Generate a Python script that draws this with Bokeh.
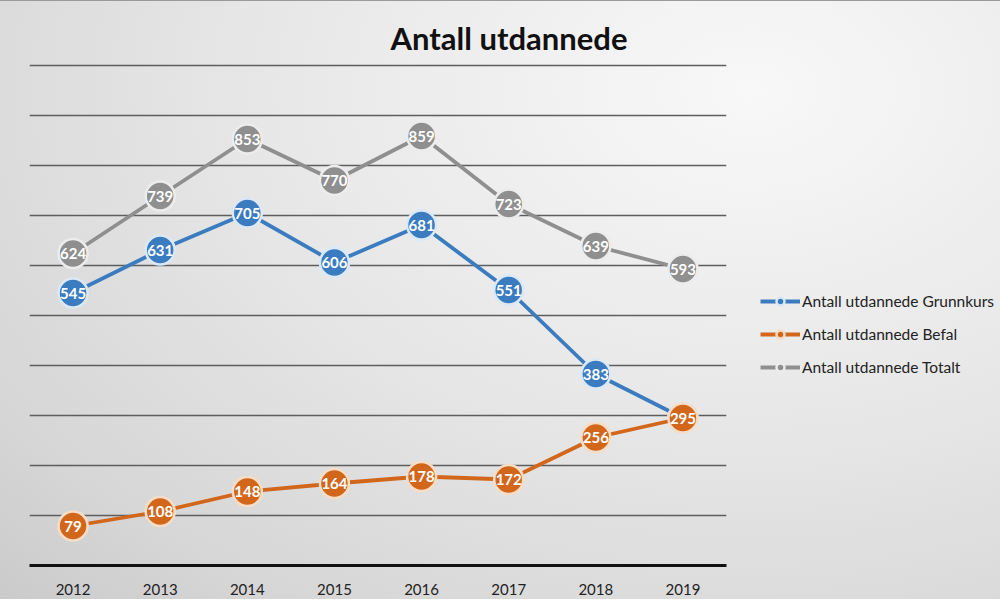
from bokeh.plotting import figure
from bokeh.layouts import row
from bokeh.models import (FactorRange, Range1d, SingleIntervalTicker, Legend, LegendItem, Title)
from bokeh.core.properties import value
from bokeh.embed import file_html
from bokeh.resources import INLINE

years = ["2012", "2013", "2014", "2015", "2016", "2017", "2018", "2019"]
grunnkurs = [545, 631, 705, 606, 681, 551, 383, 295]
befal = [79, 108, 148, 164, 178, 172, 256, 295]
totalt = [624, 739, 853, 770, 859, 723, 639, 593]
series_names = ["Antall utdannede Grunnkurs", "Antall utdannede Befal", "Antall utdannede Totalt"]
colors = ["#3b7cc0", "#d2671c", "#8f8f8f"]
glows = ["#dbe8f5", "#f7ddc6", "#ececec"]
title_text = "Antall utdannede"

H = 598
p = figure(width=730, height=H, output_backend="svg", toolbar_location=None,
           x_range=FactorRange(*years, range_padding=0), y_range=Range1d(0, 1010),
           min_border_left=29, min_border_right=4, min_border_top=59, min_border_bottom=34)
p.background_fill_alpha = 0
p.border_fill_alpha = 0
p.outline_line_color = None

p.title = Title(text=title_text, align="left", offset=361, text_font="Lato",
                text_font_size="31px", text_font_style="bold", text_color="#111111", standoff=7)

p.yaxis.visible = False
p.ygrid.ticker = SingleIntervalTicker(interval=100)
p.ygrid.grid_line_color = "#5e5e5e"
p.ygrid.grid_line_width = 1.4
p.xgrid.grid_line_color = None

ax = p.xaxis[0]
ax.axis_line_color = "#111111"
ax.axis_line_width = 3
ax.major_tick_line_color = None
ax.minor_tick_line_color = None
ax.major_label_standoff = 12
ax.major_label_text_font = "Lato"
ax.major_label_text_font_size = "15px"
ax.major_label_text_color = "#222222"

# legend panel (separate figure so the legend is not clipped by the plot frame)
p2 = figure(width=270, height=H, output_backend="svg", toolbar_location=None,
            x_range=FactorRange(*years), y_range=Range1d(-3000, -2000),
            min_border_left=0, min_border_right=0, min_border_top=0, min_border_bottom=0)
p2.axis.visible = False
p2.grid.visible = False
p2.background_fill_alpha = 0
p2.border_fill_alpha = 0
p2.outline_line_color = None

items = []
for name, vals, c, g in zip(series_names, [grunnkurs, befal, totalt], colors, glows):
    src = dict(x=years, y=vals, t=[str(v) for v in vals])
    p.line(x="x", y="y", source=src, line_color=c, line_width=3.8)
    p.scatter(x="x", y="y", source=src, size=29, fill_color=c, line_color=g, line_width=2.5)
    p.text(x="x", y="y", text="t", source=src, text_align="center", text_baseline="middle",
           text_font=value("Lato"), text_font_size="15px", text_font_style="bold", text_color="white")
    l2 = p2.line(x="x", y="y", source=src, line_color=c, line_width=3.8)
    s2 = p2.scatter(x="x", y="y", source=src, size=29, fill_color=c, line_color=g, line_width=2.5)
    items.append(LegendItem(label=name, renderers=[l2, s2]))

legend = Legend(items=items, location=(30, 188), glyph_width=40, glyph_height=20, spacing=13,
                label_standoff=2, padding=0, margin=0, border_line_color=None,
                background_fill_alpha=0, label_text_font="Lato", label_text_font_size="15.5px",
                label_text_color="#222222")
p2.add_layout(legend, "center")

layout = row(p, p2, spacing=0)
layout.styles = {"background": "radial-gradient(ellipse 110% 125% at 75% 15%, #f8f8f8 0%, #e7e7e7 45%, #d6d6d6 80%, #c8c8c8 100%)",
                 "border-top": "1px solid #9a9a9a"}

open("out.html", "w").write(file_html(layout, INLINE))
